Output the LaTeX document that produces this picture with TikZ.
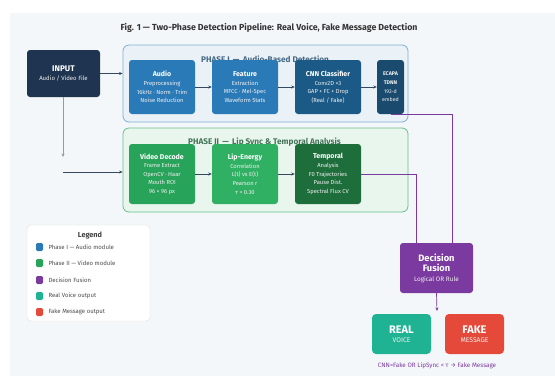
\documentclass[tikz,border=0pt]{standalone}
\usepackage{fontspec}
\setmainfont{Fira Sans}
\usetikzlibrary{arrows.meta}
\definecolor{bgcol}{HTML}{F4F7F9}
\definecolor{navy}{HTML}{1E3450}
\definecolor{audioblue}{HTML}{2A7AB8}
\definecolor{cnnblue}{HTML}{1B5A86}
\definecolor{ecapablue}{HTML}{1A4B6E}
\definecolor{vidgreen}{HTML}{28A35A}
\definecolor{lipgreen}{HTML}{2FB063}
\definecolor{tempgreen}{HTML}{1E6E3C}
\definecolor{fusepurple}{HTML}{7B3AA0}
\definecolor{realteal}{HTML}{1FB394}
\definecolor{fakered}{HTML}{E5493A}
\definecolor{arrowgray}{HTML}{34495E}

\begin{document}
\begin{tikzpicture}[x=1pt,y=-1pt,
    mod/.style={rounded corners=3pt, text=white!88!gray, align=center, inner sep=1pt,
        minimum width=66pt, minimum height=54pt, font=\fontsize{5.8}{8.6}\selectfont},
    phase/.style={rounded corners=6pt, line width=0.8pt, minimum width=285pt},
    ptitle/.style={font=\fontsize{8.2}{9}\selectfont\bfseries},
    flow/.style={draw=arrowgray, line width=0.7pt, -{Stealth[length=3.5pt,width=3pt]}},
    fuse/.style={draw=fusepurple, line width=0.8pt},
    outbox/.style={rounded corners=4pt, text=white!88!gray, align=center, minimum width=59pt,
        minimum height=40pt, font=\fontsize{6.8}{9}\selectfont},
    swatch/.style={rounded corners=1.3pt, minimum width=7pt, minimum height=8pt, inner sep=0pt},
    legitem/.style={anchor=west, text=black!70, font=\fontsize{6}{7}\selectfont}
]
\useasboundingbox (0,0) rectangle (555,376);
\fill[bgcol] (10,13) rectangle (555,376);

\node[font=\fontsize{8.8}{10}\selectfont\bfseries, text=black!80] (title) at (269,28)
    {Fig. 1 — Two-Phase Detection Pipeline: Real Voice, Fake Message Detection};

% input
\node[mod, fill=navy, minimum width=73pt, minimum height=47pt, font=\fontsize{6}{9}\selectfont] (input) at (63.5,73.5)
    {{\fontsize{8.2}{9}\selectfont\bfseries\color{white} INPUT}\\Audio / Video File};

% phase I
\node[phase, draw=audioblue!60, fill=audioblue!10, minimum height=77pt] (p1) at (265.5,83.5) {};
\node[ptitle, text=audioblue!55!black!80] (p1title) at (265,59.5) {PHASE I \,—\, Audio-Based Detection};
\node[mod, fill=audioblue] (audio) at (162,87)
    {{\fontsize{7}{8.6}\selectfont\bfseries\color{white} Audio}\\Preprocessing\\16kHz · Norm · Trim\\Noise Reduction};
\node[mod, fill=audioblue] (feat) at (245,87)
    {{\fontsize{7}{8.6}\selectfont\bfseries\color{white} Feature}\\Extraction\\MFCC · Mel-Spec\\Waveform Stats};
\node[mod, fill=cnnblue] (cnn) at (328,87)
    {{\fontsize{7}{8.6}\selectfont\bfseries\color{white} CNN Classifier}\\Conv2D ×3\\GAP + FC + Drop\\(Real / Fake)};
\node[mod, fill=ecapablue, minimum width=27pt, font=\fontsize{5.3}{8.6}\selectfont] (ecapa) at (390.5,87)
    {\textbf{ECAPA}\\\textbf{TDNN}\\192-d\\embed};

% phase II
\node[phase, draw=vidgreen!70, fill=vidgreen!10, minimum height=84pt] (p2) at (265.5,170) {};
\node[ptitle, text=vidgreen!50!black!80] (p2title) at (264.5,142.5) {PHASE II \,—\, Lip Sync \& Temporal Analysis};
\node[mod, fill=vidgreen, minimum height=60pt] (video) at (162,174)
    {{\fontsize{7}{8.6}\selectfont\bfseries\color{white} Video Decode}\\Frame Extract\\OpenCV · Haar\\Mouth ROI\\96 × 96 px};
\node[mod, fill=lipgreen, minimum height=60pt] (lip) at (245,174)
    {{\fontsize{7}{8.6}\selectfont\bfseries\color{white} Lip-Energy}\\Correlation\\L(t) vs E(t)\\Pearson r\\τ = 0.30};
\node[mod, fill=tempgreen, minimum height=60pt] (temp) at (328,174)
    {{\fontsize{7}{8.6}\selectfont\bfseries\color{white} Temporal}\\Analysis\\F0 Trajectories\\Pause Dist.\\Spectral Flux CV};

% decision
\node[mod, fill=fusepurple, minimum width=73pt, minimum height=50pt, font=\fontsize{6.4}{10}\selectfont] (fusion) at (436.5,268)
    {{\fontsize{9.3}{10}\selectfont\bfseries\color{white} Decision}\\{\fontsize{9.3}{10}\selectfont\bfseries\color{white} Fusion}\\Logical OR Rule};
\node[outbox, fill=realteal] (real) at (401.5,334)
    {{\fontsize{11}{12}\selectfont\bfseries\color{white} REAL}\\VOICE};
\node[outbox, fill=fakered] (fake) at (474.5,334)
    {{\fontsize{11}{12}\selectfont\bfseries\color{white} FAKE}\\MESSAGE};
\node[text=fusepurple, font=\fontsize{6.3}{7}\selectfont] (rule) at (437,366)
    {CNN=Fake OR LipSync < τ → Fake Message};

% connectors
\coordinate (drop) at (63,157);
\coordinate (split) at (63,172);
\coordinate (fin1) at (416,243);
\coordinate (fin2) at (452,243);
\coordinate (fout) at (437,311);
\draw[flow] (input.east) -- (input.east -| p1.west);
\draw[flow, draw=black!40] (input.south -| drop) -- (drop);
\draw[flow] (split) -- (split -| p2.west);
\draw[flow] (audio) -- (feat);
\draw[flow] (feat) -- (cnn);
\draw[flow] (cnn) -- (ecapa);
\draw[flow] (video) -- (lip);
\draw[flow] (lip) -- (temp);
\draw[fuse] (ecapa.south) |- (fin2 |- ecapa.south) -- (fin2);
\draw[fuse] (temp.east) -| (fin1);
\draw[flow, draw=fusepurple] (fusion.south) -- (fout);

% legend
\node[draw=black!12, fill=white, rounded corners=4pt, minimum width=123pt, minimum height=96pt] (legend) at (88.5,273) {};
\node[font=\fontsize{7.3}{8}\selectfont\bfseries, text=black!75] (legtitle) at (90,236) {Legend};
\foreach \c/\t/\y [count=\i] in {audioblue/Phase I — Audio module/247,
        vidgreen/Phase II — Video module/263, fusepurple/Decision Fusion/280,
        realteal/Real Voice output/296, fakered/Fake Message output/312} {
    \node[swatch, fill=\c] (sw\i) at (39.5,\y) {};
    \node[legitem] (lt\i) at (45,\y) {\t};
}
\end{tikzpicture}
\end{document}
